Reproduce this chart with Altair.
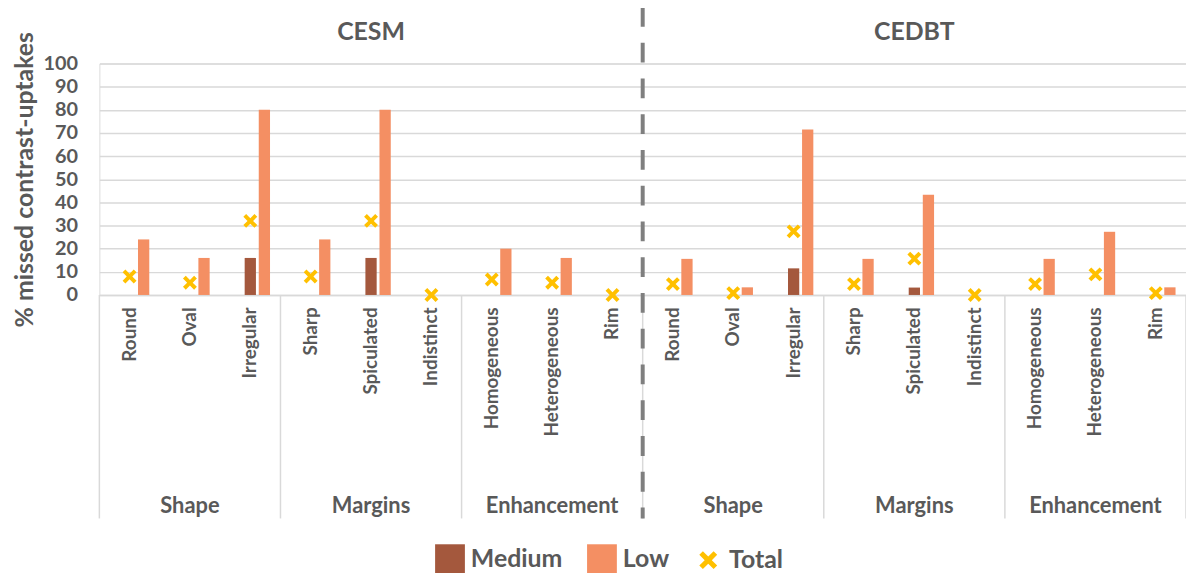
import altair as alt
import pandas as pd

# ---- data ----
panels = ["CESM", "CEDBT"]
categories = ["Round", "Oval", "Irregular", "Sharp", "Spiculated", "Indistinct",
              "Homogeneous", "Heterogeneous", "Rim"]
groups = ["Shape", "Shape", "Shape", "Margins", "Margins", "Margins",
          "Enhancement", "Enhancement", "Enhancement"]

cesm_medium = [0, 0, 16, 0, 16, 0, 0, 0, 0]
cesm_low = [24, 16, 80, 24, 80, 0, 20, 16, 0]
cesm_total = [8, 5.3, 32, 8, 32, 0, 6.7, 5.3, 0]

cedbt_medium = [0, 0, 11.5, 0, 3.2, 0, 0, 0, 0]
cedbt_low = [15.6, 3.3, 71.5, 15.6, 43.3, 0, 15.6, 27.3, 3.3]
cedbt_total = [4.7, 0.8, 27.5, 4.7, 15.7, 0, 4.7, 8.9, 0.8]

y_ticks = [0, 10, 20, 30, 40, 50, 60, 70, 80, 90, 100]

series_names = ["Medium", "Low", "Total"]
series_colors = ["#A4583D", "#F48F63", "#FFC000"]
text_color = "#595959"
FONT = "Lato"

# thick "x" marker as a filled polygon (unit square -0.6..0.6)
d = 0.24
s = 0.6
X_PATH = (f"M{-s},{-s + d}L{-s + d},{-s}L0,{-d}L{s - d},{-s}L{s},{-s + d}L{d},0"
          f"L{s},{s - d}L{s - d},{s}L0,{d}L{-s + d},{s}L{-s},{s - d}L{-d},0Z")

values = {
    "CESM": {"Medium": cesm_medium, "Low": cesm_low, "Total": cesm_total},
    "CEDBT": {"Medium": cedbt_medium, "Low": cedbt_low, "Total": cedbt_total},
}

keys = [f"{p}|{c}" for p in panels for c in categories]
n_cat = len(categories)
n_all = len(keys)

bar_rows, pt_rows = [], []
for p in panels:
    for i, c in enumerate(categories):
        k = f"{p}|{c}"
        for sname in ["Medium", "Low"]:
            bar_rows.append({"key": k, "series": sname, "value": values[p][sname][i]})
        pt_rows.append({"key": k, "series": "Total", "value": values[p]["Total"][i]})
bars_df = pd.DataFrame(bar_rows)
pts_df = pd.DataFrame(pt_rows)

grp_rows, bound_rows = [], []
order = []
for g in groups:
    if g not in order:
        order.append(g)
for pi, p in enumerate(panels):
    start = 0
    for g in order:
        size = groups.count(g)
        grp_rows.append({"label": g, "pos": pi * n_cat + start + size / 2})
        bound_rows.append({"pos": pi * n_cat + start})
        start += size
bound_rows.append({"pos": n_all})
bound_df = pd.DataFrame([b for b in bound_rows if b["pos"] != n_cat])
grp_df = pd.DataFrame(grp_rows)
panel_df = pd.DataFrame({"label": panels,
                         "pos": [i * n_cat + n_cat / 2 for i in range(len(panels))]})
split_df = pd.DataFrame({"pos": [n_cat]})

W, H = 1094, 233
below = 225

band_scale = alt.Scale(domain=keys, paddingInner=0.3, paddingOuter=0.15)
qx = alt.Scale(domain=[0, n_all], nice=False, zero=False)
color_scale = alt.Scale(domain=series_names, range=series_colors)
shape_scale = alt.Scale(domain=series_names, range=["square", "square", X_PATH])
y_scale = alt.Scale(domain=[0, 100], nice=False)

legend = alt.Legend(
    orient="none", legendX=338, legendY=484, direction="horizontal", title=None,
    symbolSize=900, symbolOpacity=1, symbolStrokeWidth=0,
    labelFont=FONT, labelFontSize=25, labelFontWeight="bold", labelColor=text_color,
    labelOffset=6, columnPadding=24,
)

y_axis = alt.Axis(values=y_ticks, title="% missed contrast-uptakes", labelOverlap=False,
                  titleFont=FONT, titleFontSize=25, titleFontWeight="bold",
                  titleColor=text_color, titlePadding=6,
                  labelFont=FONT, labelFontSize=20, labelFontWeight="bold",
                  labelColor=text_color, labelPadding=22,
                  ticks=False, domain=False, gridColor="#d9d9d9", gridWidth=1.5)

bars = alt.Chart(bars_df).mark_bar().encode(
    x=alt.X("key:N", scale=band_scale, sort=keys,
            axis=alt.Axis(title=None, labelAngle=-90, labelExpr="split(datum.value,'|')[1]",
                          labelFont=FONT, labelFontSize=19, labelFontWeight="bold",
                          labelColor=text_color, labelPadding=12, ticks=False,
                          domainColor="#d9d9d9", domainWidth=1.5, grid=False)),
    xOffset=alt.XOffset("series:N", scale=alt.Scale(domain=["Total", "Medium", "Low"],
                                                     paddingInner=0.2, paddingOuter=0.1)),
    y=alt.Y("value:Q", scale=y_scale, axis=y_axis),
    color=alt.Color("series:N", scale=color_scale, legend=legend),
)

points = alt.Chart(pts_df).mark_point(filled=True, size=544, opacity=1, strokeWidth=0).encode(
    x=alt.X("key:N", scale=band_scale, sort=keys, axis=None),
    y=alt.Y("value:Q", scale=y_scale, axis=y_axis),
    color=alt.Color("series:N", scale=color_scale, legend=legend),
    shape=alt.Shape("series:N", scale=shape_scale, legend=legend),
)

seps = alt.Chart(bound_df).mark_rule(color="#d9d9d9", strokeWidth=1.5).encode(
    x=alt.X("pos:Q", scale=qx, axis=None),
    y=alt.value(H), y2=alt.value(H + below),
)

split_light = alt.Chart(split_df).mark_rule(color="#d9d9d9", strokeWidth=1.5).encode(
    x=alt.X("pos:Q", scale=qx, axis=None),
    y=alt.value(H), y2=alt.value(H + below),
)

split_dash = alt.Chart(split_df).mark_rule(color="#7f7f7f", strokeWidth=4,
                                           strokeDash=[20, 16]).encode(
    x=alt.X("pos:Q", scale=qx, axis=None),
    y=alt.value(-57), y2=alt.value(H + below),
)

grp_text = alt.Chart(grp_df).mark_text(font=FONT, fontSize=22, fontWeight="bold",
                                       color=text_color, baseline="middle").encode(
    x=alt.X("pos:Q", scale=qx, axis=None),
    y=alt.value(446),
    text="label:N",
)

panel_text = alt.Chart(panel_df).mark_text(font=FONT, fontSize=25, fontWeight="bold",
                                           color=text_color, baseline="middle").encode(
    x=alt.X("pos:Q", scale=qx, axis=None),
    y=alt.value(-32),
    text="label:N",
)

chart = alt.layer(
    seps, split_light, bars, points, split_dash, grp_text, panel_text
).resolve_scale(x="independent").properties(
    width=W, height=H,
    autosize=alt.AutoSizeParams(type="none"),
    padding={"left": 92, "top": 54, "right": 0, "bottom": 278},
).configure_view(stroke=None).configure(background="white")

chart.save("out.html", embed_options={"renderer": "svg", "actions": False})
